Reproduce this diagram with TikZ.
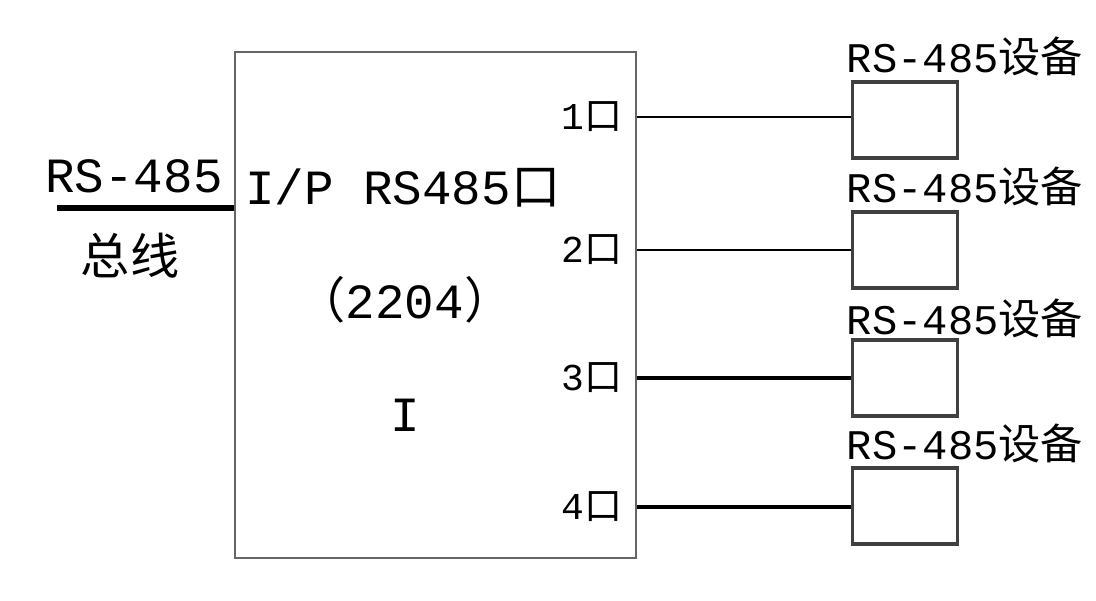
\documentclass[tikz,border=0pt]{standalone}
\usepackage{fontspec}
\setmainfont{Liberation Mono}
\newfontfamily\cjk{Noto Sans CJK SC}
\usetikzlibrary{positioning}
\begin{document}
\begin{tikzpicture}[x=0.025cm,y=-0.025cm,
  dev/.style={draw=black!75,line width=2.2pt,minimum width=105*0.025cm,minimum height=76*0.025cm,inner sep=0pt},
  lbl/.style={font=\fontsize{30}{32}\selectfont,inner sep=0pt},
  port/.style={font=\fontsize{27}{29}\selectfont,inner sep=0pt},
  big/.style={font=\fontsize{35}{37}\selectfont,inner sep=0pt}]
\useasboundingbox (0,0) rectangle (1096,600);

% main box
\node[draw=black!60,line width=1.5pt,minimum width=401*0.025cm,minimum height=506*0.025cm,inner sep=0pt] (box) at (435.5,305) {};
\coordinate (busL) at (57,208);
\draw[line width=4pt] (busL) -- (busL -| box.west);
\node[big] (rs) at (134,176) {RS-485};
\node[big] (bus) at (130,256) {\cjk 总线};
\node[big,anchor=west] (ip) at (245,188) {I/P RS485{\cjk 口}};
\node[big] (num) at (405,300) {{\cjk （}2204{\cjk ）}};
\node[big] (one) at (405,415) {I};

% ports and devices
\foreach \i/\py/\dy/\ly/\w in {1/117/120/56/1.8pt,2/250/250/186/1.8pt,3/378/378/318/3pt,4/507/506/443/3pt}{
  \node[port] (p\i) at (592,\py) {\i{\cjk 口}};
  \node[dev] (d\i) at (905,\dy) {};
  \node[lbl] (t\i) at (965,\ly) {RS-485{\cjk 设备}};
  \draw[line width=\w] (box.east |- p\i) -- (d\i.west |- p\i);
}
\end{tikzpicture}
\end{document}
